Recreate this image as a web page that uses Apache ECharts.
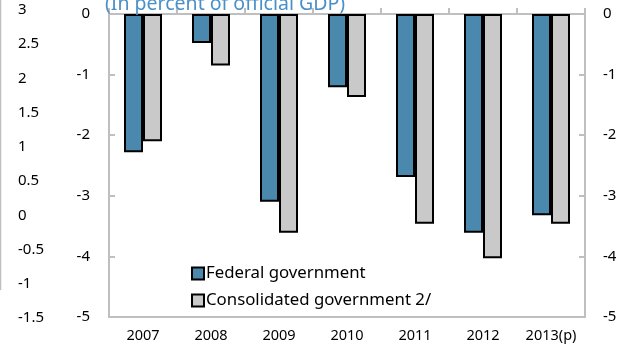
<!DOCTYPE html>
<html>
<head>
<meta charset="utf-8">
<script src="https://cdn.jsdelivr.net/npm/echarts@6/dist/echarts.min.js"></script>
<style>
  html, body { margin: 0; padding: 0; background: #fff; }
  #chart { width: 626px; height: 354px; }
</style>
</head>
<body>
<div id="chart"></div>
<script>
// Fiscal balance, in percent of official GDP
const years = ['2007', '2008', '2009', '2010', '2011', '2012', '2013(p)'];
const federalGov = [-2.28, -0.48, -3.10, -1.21, -2.69, -3.61, -3.32];
const consolidatedGov = [-2.10, -0.85, -3.61, -1.37, -3.46, -4.03, -3.46];
const seriesNames = ['Federal government', 'Consolidated government 2/'];
const titleText = '(In percent of official GDP)';

const FONT = 'Noto Sans';
const frameGray = '#bfbfbf';
const labelStyle = { color: '#000', fontFamily: FONT, fontSize: 15 };

const chart = echarts.init(document.getElementById('chart'), null, { renderer: 'canvas' });

chart.setOption({
  animation: false,
  backgroundColor: '#fff',
  title: {
    text: titleText,
    left: 100,
    top: -11,
    textStyle: { color: '#4a90c8', fontFamily: FONT, fontSize: 19.5, fontWeight: 'normal' }
  },
  legend: {
    orient: 'vertical',
    left: 186,
    top: 260,
    itemGap: 10,
    itemWidth: 12,
    itemHeight: 12,
    icon: 'rect',
    textStyle: { color: '#000', fontFamily: FONT, fontSize: 16.8, padding: [0, 0, 0, -3] },
    data: seriesNames
  },
  graphic: [{
    type: 'line',
    shape: { x1: 0.5, y1: 0, x2: 0.5, y2: 290 },
    style: { stroke: frameGray, lineWidth: 1.5 }
  }],
  grid: [
    { left: 109, right: 41, top: 14, bottom: 37, show: true, borderColor: frameGray, borderWidth: 2, backgroundColor: 'transparent' },
    { left: 1, width: 5, top: 10, height: 308 }
  ],
  xAxis: [
    {
      type: 'category', gridIndex: 0, position: 'top', data: years,
      axisLine: { show: true, lineStyle: { color: frameGray, width: 2 } },
      axisTick: { show: true, inside: false, length: 6, lineStyle: { color: frameGray, width: 2 } },
      axisLabel: { show: false }
    },
    {
      type: 'category', gridIndex: 0, position: 'bottom', data: years,
      axisLine: { show: false }, axisTick: { show: false },
      axisLabel: Object.assign({ margin: 11, interval: 0 }, labelStyle, { fontSize: 14.5 })
    },
    { type: 'value', gridIndex: 1, show: false }
  ],
  yAxis: [
    {
      type: 'value', gridIndex: 0, position: 'left', min: -5, max: 0, interval: 1,
      axisLine: { show: true, lineStyle: { color: frameGray, width: 2 } },
      axisTick: { show: true, inside: true, length: 6, lineStyle: { color: frameGray, width: 2 } },
      splitLine: { show: false },
      axisLabel: Object.assign({ margin: 19 }, labelStyle)
    },
    {
      type: 'value', gridIndex: 0, position: 'right', min: -5, max: 0, interval: 1,
      axisLine: { show: true, lineStyle: { color: frameGray, width: 2 } },
      axisTick: { show: true, inside: true, length: 6, lineStyle: { color: frameGray, width: 2 } },
      splitLine: { show: false },
      axisLabel: Object.assign({ margin: 18 }, labelStyle)
    },
    {
      type: 'value', gridIndex: 1, position: 'left', min: -1.5, max: 3, interval: 0.5,
      axisLine: { show: false }, axisTick: { show: false }, splitLine: { show: false },
      axisLabel: Object.assign({ margin: -17, align: 'left' }, labelStyle)
    }
  ],
  series: [
    {
      name: seriesNames[0], type: 'bar', xAxisIndex: 0, yAxisIndex: 0,
      data: federalGov, barWidth: 19, barGap: '0%',
      itemStyle: { color: '#4a89ad', borderColor: '#000', borderWidth: 2 }
    },
    {
      name: seriesNames[1], type: 'bar', xAxisIndex: 0, yAxisIndex: 0,
      data: consolidatedGov, barWidth: 19, barGap: '0%',
      itemStyle: { color: '#c9c9c9', borderColor: '#000', borderWidth: 2 }
    }
  ]
});
</script>
</body>
</html>
